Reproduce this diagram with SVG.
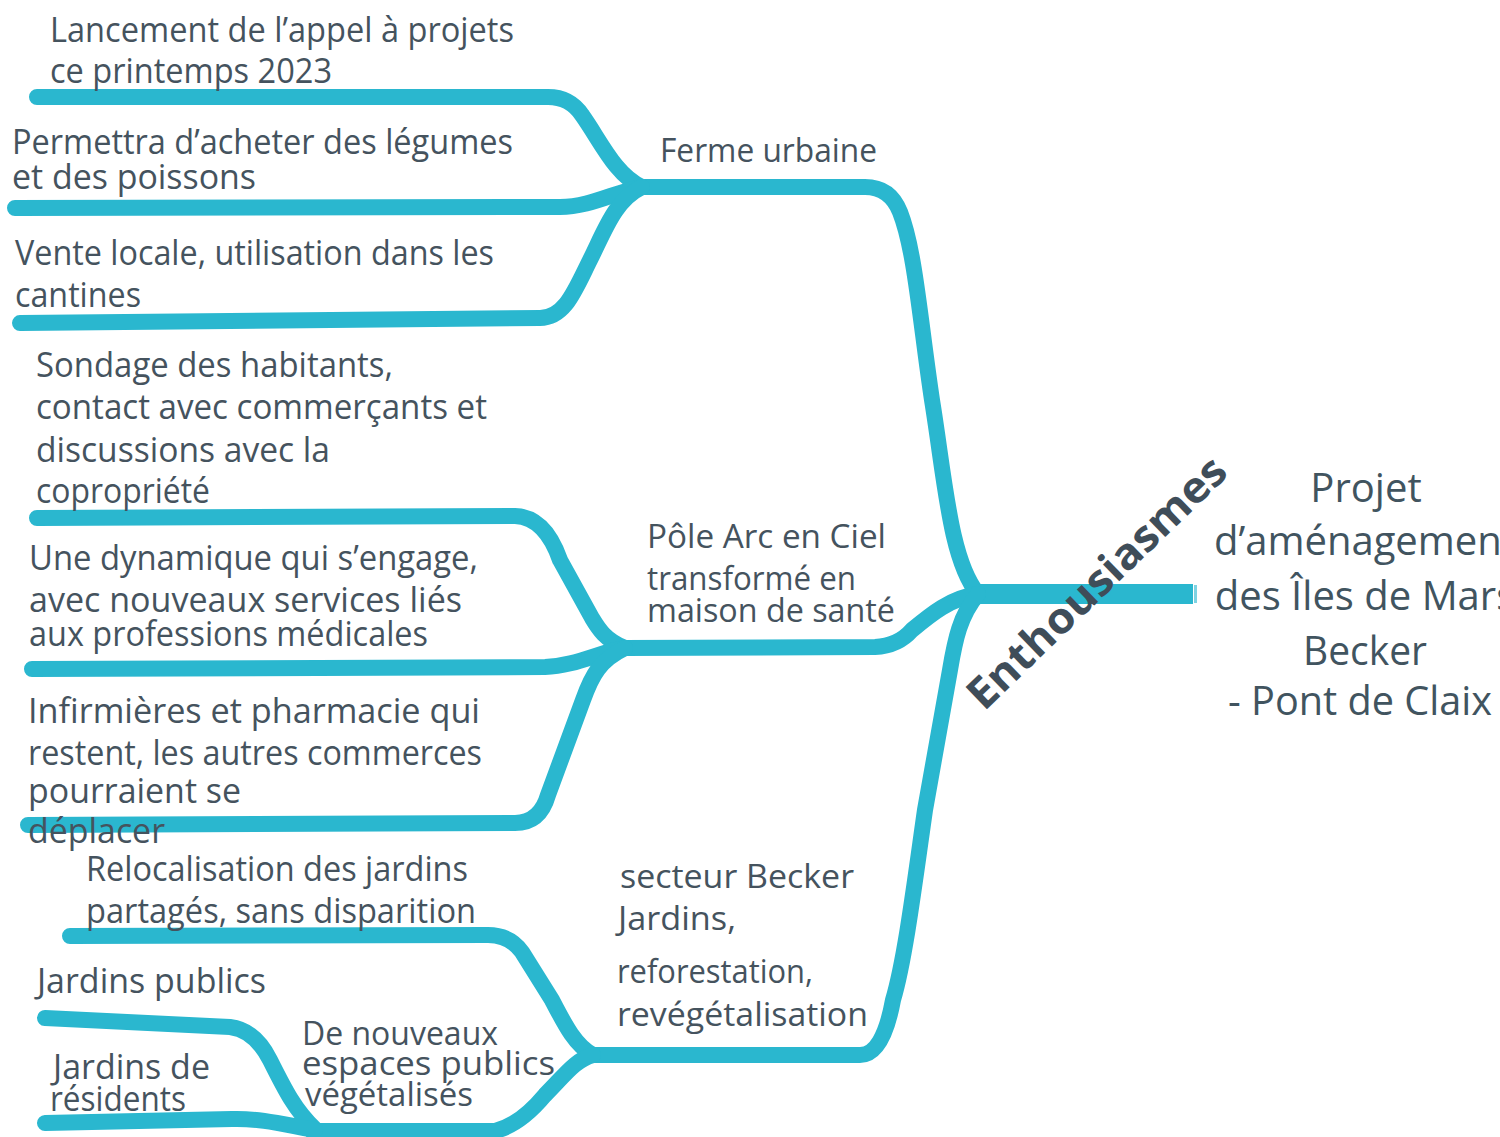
<svg xmlns="http://www.w3.org/2000/svg" width="1500" height="1137" viewBox="0 0 1500 1137">
<style>
.br{fill:none;stroke:#2ab7cf;stroke-width:16;stroke-linecap:round;stroke-linejoin:round}
.t{font-family:"Open Sans","Noto Sans","DejaVu Sans",sans-serif;font-size:35px;fill:#45535e}
.m{font-size:33px}
.r{font-size:40px;fill:#41545f}
.b{font-family:"Open Sans","Noto Sans","DejaVu Sans",sans-serif;font-weight:700;font-size:43px;fill:#3f4d59}
</style>
<rect width="1500" height="1137" fill="#ffffff"/>
<g id="connectors">
  <!-- root stub -->
  <path class="br" style="stroke-width:20;stroke-linecap:butt" d="M 978 594 L 1193 594"/>
  <rect x="1194" y="585" width="3" height="18" fill="#7fd3e2"/>
  <!-- trunk to Ferme urbaine -->
  <path class="br" d="M 978 594 C 950 560 945 480 932 400 C 920 320 915 250 900 212 Q 890 187 865 187 L 645 187"/>
  <!-- trunk to Pôle -->
  <path class="br" d="M 978 594 C 950 598 930 615 912 630 Q 898 646 875 647 L 625 648"/>
  <!-- trunk to secteur Becker -->
  <path class="br" d="M 978 594 C 960 615 955 640 950 670 L 925 810 C 915 880 905 960 893 1000 Q 883 1055 860 1055 L 590 1055"/>
  <!-- Ferme children -->
  <path class="br" d="M 642 187 C 615 175 600 140 582 115 Q 570 97 548 97 L 37 97"/>
  <path class="br" d="M 642 187 C 615 192 590 207 560 207 L 15 208"/>
  <path class="br" d="M 642 187 C 615 200 605 230 590 260 C 575 290 565 318 540 318 L 20 323"/>
  <!-- Pôle children -->
  <path class="br" d="M 625 648 C 605 640 598 628 592 618 L 560 560 Q 545 517 515 516 L 37 518"/>
  <path class="br" d="M 625 648 C 600 652 575 666 545 667 L 32 669"/>
  <path class="br" d="M 625 648 C 600 660 592 675 583 700 L 548 795 Q 540 823 515 823 L 28 825"/>
  <!-- secteur Becker children -->
  <path class="br" d="M 593 1055 C 575 1045 565 1025 552 1000 L 522 952 Q 510 935 488 935 L 70 936"/>
  <path class="br" d="M 593 1055 C 575 1060 565 1075 545 1095 Q 520 1125 495 1131 L 312 1131"/>
  <!-- De nouveaux espaces children -->
  <path class="br" d="M 315 1129 C 295 1110 285 1090 270 1060 Q 255 1030 230 1027 L 45 1018"/>
  <path class="br" d="M 315 1130 C 290 1126 262 1118 232 1119 L 45 1123"/>
</g>
<g id="root">
  <text class="t r" text-anchor="middle" x="1366" y="502">Projet</text>
  <text class="t r" text-anchor="middle" x="1365" y="555">d’aménagement</text>
  <text class="t r" text-anchor="middle" x="1365" y="610">des Îles de Mars</text>
  <text class="t r" text-anchor="middle" x="1365" y="665" textLength="124" lengthAdjust="spacingAndGlyphs">Becker</text>
  <text class="t r" x="1228" y="715" textLength="264" lengthAdjust="spacingAndGlyphs">- Pont de Claix</text>
</g>
<g id="enthousiasmes">
  <text class="b" x="0" y="0" textLength="342" lengthAdjust="spacingAndGlyphs" transform="translate(984 712) rotate(-44)">Enthousiasmes</text>
</g>
<g id="ferme-urbaine">
  <text class="t m" x="660" y="162" textLength="217" lengthAdjust="spacingAndGlyphs">Ferme urbaine</text>
</g>
<g id="lancement">
  <text class="t" x="50" y="42" textLength="464" lengthAdjust="spacingAndGlyphs">Lancement de l’appel à projets</text>
  <text class="t" x="50" y="83" textLength="282" lengthAdjust="spacingAndGlyphs">ce printemps 2023</text>
</g>
<g id="permettra">
  <text class="t" x="12" y="154" textLength="501" lengthAdjust="spacingAndGlyphs">Permettra d’acheter des légumes</text>
  <text class="t" x="12" y="189" textLength="244" lengthAdjust="spacingAndGlyphs">et des poissons</text>
</g>
<g id="vente">
  <text class="t" x="15" y="265" textLength="479" lengthAdjust="spacingAndGlyphs">Vente locale, utilisation dans les</text>
  <text class="t" x="15" y="307" textLength="126" lengthAdjust="spacingAndGlyphs">cantines</text>
</g>
<g id="pole">
  <text class="t m" x="647" y="548" textLength="239" lengthAdjust="spacingAndGlyphs">Pôle Arc en Ciel</text>
  <text class="t m" x="647" y="590" textLength="209" lengthAdjust="spacingAndGlyphs">transformé en</text>
  <text class="t m" x="647" y="622" textLength="248" lengthAdjust="spacingAndGlyphs">maison de santé</text>
</g>
<g id="sondage">
  <text class="t" x="36" y="377" textLength="357" lengthAdjust="spacingAndGlyphs">Sondage des habitants,</text>
  <text class="t" x="36" y="419" textLength="451" lengthAdjust="spacingAndGlyphs">contact avec commerçants et</text>
  <text class="t" x="36" y="462" textLength="294" lengthAdjust="spacingAndGlyphs">discussions avec la</text>
  <text class="t" x="36" y="503" textLength="174" lengthAdjust="spacingAndGlyphs">copropriété</text>
</g>
<g id="dynamique">
  <text class="t" x="29" y="570" textLength="449" lengthAdjust="spacingAndGlyphs">Une dynamique qui s’engage,</text>
  <text class="t" x="29" y="612" textLength="433" lengthAdjust="spacingAndGlyphs">avec nouveaux services liés</text>
  <text class="t" x="29" y="646" textLength="399" lengthAdjust="spacingAndGlyphs">aux professions médicales</text>
</g>
<g id="infirmieres">
  <text class="t" x="28" y="723" textLength="452" lengthAdjust="spacingAndGlyphs">Infirmières et pharmacie qui</text>
  <text class="t" x="28" y="765" textLength="454" lengthAdjust="spacingAndGlyphs">restent, les autres commerces</text>
  <text class="t" x="28" y="803" textLength="213" lengthAdjust="spacingAndGlyphs">pourraient se</text>
  <text class="t" x="28" y="843" textLength="137" lengthAdjust="spacingAndGlyphs">déplacer</text>
</g>
<g id="secteur-becker">
  <text class="t m" x="620" y="888" textLength="234" lengthAdjust="spacingAndGlyphs">secteur Becker</text>
  <text class="t m" x="618" y="930" textLength="118" lengthAdjust="spacingAndGlyphs">Jardins,</text>
  <text class="t m" x="617" y="983" textLength="196" lengthAdjust="spacingAndGlyphs">reforestation,</text>
  <text class="t m" x="617" y="1026" textLength="251" lengthAdjust="spacingAndGlyphs">revégétalisation</text>
</g>
<g id="relocalisation">
  <text class="t" x="86" y="881" textLength="382" lengthAdjust="spacingAndGlyphs">Relocalisation des jardins</text>
  <text class="t" x="86" y="923" textLength="390" lengthAdjust="spacingAndGlyphs">partagés, sans disparition</text>
</g>
<g id="nouveaux-espaces">
  <text class="t m" x="302" y="1045" textLength="196" lengthAdjust="spacingAndGlyphs">De nouveaux</text>
  <text class="t m" x="302" y="1075" textLength="253" lengthAdjust="spacingAndGlyphs">espaces  publics</text>
  <text class="t m" x="305" y="1106" textLength="168" lengthAdjust="spacingAndGlyphs">végétalisés</text>
</g>
<g id="jardins-publics">
  <text class="t" x="37" y="993" textLength="229" lengthAdjust="spacingAndGlyphs">Jardins publics</text>
</g>
<g id="jardins-residents">
  <text class="t" x="53" y="1079" textLength="157" lengthAdjust="spacingAndGlyphs">Jardins de</text>
  <text class="t" x="50" y="1111" textLength="136" lengthAdjust="spacingAndGlyphs">résidents</text>
</g>
</svg>
